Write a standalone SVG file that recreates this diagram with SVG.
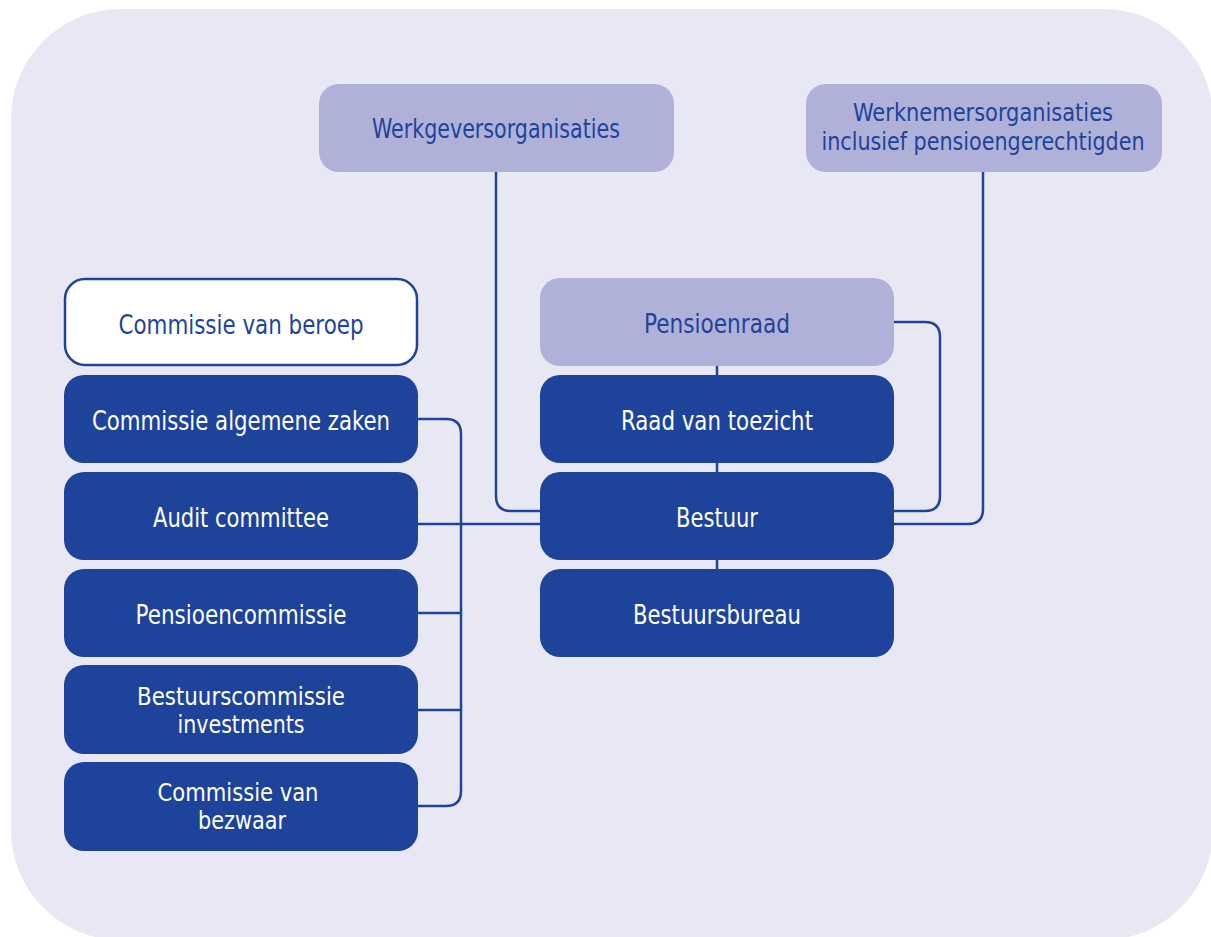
<svg xmlns="http://www.w3.org/2000/svg" width="1211" height="937" viewBox="0 0 1211 937">
<style>
.bg{fill:#E8E8F4}
.lt{fill:#AFB1D8}
.dk{fill:#1E439A}
.wh{fill:#FFFFFF;stroke:#1E439A;stroke-width:2.5}
.con{fill:none;stroke:#1E439A;stroke-width:2.5}
text{font-family:"Liberation Sans Narrow","DejaVu Sans Condensed","Liberation Sans",sans-serif;font-size:26px;text-anchor:middle}
.t2{font-size:25px}
.tw{fill:#FFFFFF}
.tb{fill:#1E439A}
</style>
<rect class="bg" x="11" y="9" width="1202" height="931" rx="110" ry="110"/>
<g id="connectors">
<path class="con" d="M496,172 V496 Q496,511 511,511 H540"/>
<path class="con" d="M983,172 V509 Q983,524 968,524 H894"/>
<path class="con" d="M894,322 H925 Q940,322 940,337 V496 Q940,511 925,511 H894"/>
<path class="con" d="M418,419 H446 Q461,419 461,434 V791 Q461,806 446,806 H418"/>
<path class="con" d="M418,524 H540"/>
<path class="con" d="M418,613 H461"/>
<path class="con" d="M418,710 H461"/>
<path class="con" d="M717,366 V375"/>
<path class="con" d="M717,463 V472"/>
<path class="con" d="M717,560 V569"/>
</g>
<g id="werkgevers">
<rect class="lt" x="319" y="84" width="355" height="88" rx="20"/>
<text class="tb" x="496" y="138" textLength="248" lengthAdjust="spacingAndGlyphs">Werkgeversorganisaties</text>
</g>
<g id="werknemers">
<rect class="lt" x="806" y="84" width="356" height="88" rx="20"/>
<text class="tb t2" x="983" y="121" textLength="260" lengthAdjust="spacingAndGlyphs">Werknemersorganisaties</text>
<text class="tb t2" x="983" y="150" textLength="323" lengthAdjust="spacingAndGlyphs">inclusief pensioengerechtigden</text>
</g>
<g id="beroep">
<rect class="wh" x="65" y="279" width="352" height="86" rx="20"/>
<text class="tb" x="241" y="334" textLength="245" lengthAdjust="spacingAndGlyphs">Commissie van beroep</text>
</g>
<g id="algemene">
<rect class="dk" x="64" y="375" width="354" height="88" rx="20"/>
<text class="tw" x="241" y="430" textLength="298" lengthAdjust="spacingAndGlyphs">Commissie algemene zaken</text>
</g>
<g id="audit">
<rect class="dk" x="64" y="472" width="354" height="88" rx="20"/>
<text class="tw" x="241" y="527" textLength="176" lengthAdjust="spacingAndGlyphs">Audit committee</text>
</g>
<g id="pensioencommissie">
<rect class="dk" x="64" y="569" width="354" height="88" rx="20"/>
<text class="tw" x="241" y="624" textLength="211" lengthAdjust="spacingAndGlyphs">Pensioencommissie</text>
</g>
<g id="bestuurscommissie">
<rect class="dk" x="64" y="665" width="354" height="89" rx="20"/>
<text class="tw t2" x="241" y="705" textLength="208" lengthAdjust="spacingAndGlyphs">Bestuurscommissie</text>
<text class="tw t2" x="241" y="733" textLength="127" lengthAdjust="spacingAndGlyphs">investments</text>
</g>
<g id="bezwaar">
<rect class="dk" x="64" y="762" width="354" height="89" rx="20"/>
<text class="tw t2" x="238" y="801" textLength="161" lengthAdjust="spacingAndGlyphs">Commissie van</text>
<text class="tw t2" x="242" y="829" textLength="88" lengthAdjust="spacingAndGlyphs">bezwaar</text>
</g>
<g id="pensioenraad">
<rect class="lt" x="540" y="278" width="354" height="88" rx="20"/>
<text class="tb" x="717" y="333" textLength="146" lengthAdjust="spacingAndGlyphs">Pensioenraad</text>
</g>
<g id="raad">
<rect class="dk" x="540" y="375" width="354" height="88" rx="20"/>
<text class="tw" x="717" y="430" textLength="192" lengthAdjust="spacingAndGlyphs">Raad van toezicht</text>
</g>
<g id="bestuur">
<rect class="dk" x="540" y="472" width="354" height="88" rx="20"/>
<text class="tw" x="717" y="527" textLength="82" lengthAdjust="spacingAndGlyphs">Bestuur</text>
</g>
<g id="bestuursbureau">
<rect class="dk" x="540" y="569" width="354" height="88" rx="20"/>
<text class="tw" x="717" y="624" textLength="168" lengthAdjust="spacingAndGlyphs">Bestuursbureau</text>
</g>
</svg>
